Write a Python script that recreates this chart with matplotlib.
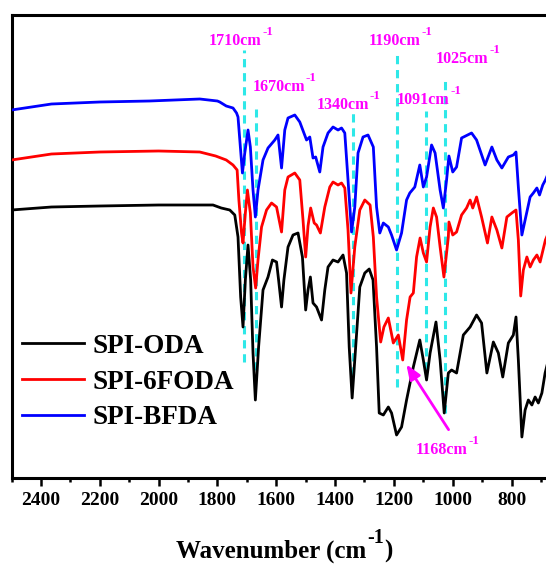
import matplotlib
matplotlib.use("Agg")
import matplotlib.pyplot as plt
from matplotlib.ticker import MultipleLocator

plt.rcParams['font.family'] = ['Liberation Serif', 'DejaVu Serif']
plt.rcParams['font.weight'] = 'bold'

# ---- data (wavenumber cm^-1, transmittance in arbitrary units) ----
wn_bfda = [2500, 2364, 2200, 2031, 1860, 1800, 1792, 1770, 1747, 1735, 1730, 1722, 1715, 1707,
           1696, 1688, 1679, 1671, 1662, 1645, 1628, 1605, 1594, 1582, 1571, 1560, 1537, 1520,
           1497, 1486, 1475, 1466, 1452, 1441, 1424, 1407, 1390, 1378, 1367, 1356, 1344, 1333,
           1322, 1305, 1288, 1270, 1259, 1248, 1236, 1219, 1208, 1191, 1174, 1157, 1146, 1129,
           1112, 1100, 1089, 1072, 1060, 1043, 1032, 1021, 1013, 1000, 987, 970, 936, 919, 890,
           867, 850, 833, 811, 794, 785, 777, 765, 754, 737, 726, 714, 705, 694, 685, 675]
t_bfda = [368, 374, 376, 377, 379, 377, 376, 372, 370, 365, 361, 331, 305, 325,
          348, 331, 288, 261, 288, 318, 330, 338, 343, 310, 348, 360, 363, 356,
          338, 341, 320, 321, 306, 331, 345, 351, 348, 350, 345, 298, 246, 271,
          325, 341, 343, 331, 271, 245, 255, 251, 243, 228, 245, 278, 285, 291,
          313, 291, 301, 333, 325, 288, 270, 298, 322, 306, 311, 340, 345, 338, 313,
          331, 318, 310, 321, 323, 326, 291, 243, 258, 281, 285, 290, 283, 293, 298, 305]

wn_6foda = [2500, 2364, 2200, 2000, 1860, 1806, 1770, 1747, 1733, 1727, 1718, 1713, 1705, 1698,
            1688, 1679, 1670, 1662, 1650, 1633, 1616, 1599, 1582, 1571, 1560, 1537, 1520, 1509,
            1500, 1492, 1483, 1471, 1463, 1450, 1435, 1418, 1407, 1390, 1378, 1367, 1356, 1346,
            1333, 1316, 1299, 1281, 1270, 1259, 1245, 1234, 1219, 1202, 1185, 1170, 1157, 1145,
            1134, 1123, 1111, 1100, 1089, 1077, 1066, 1055, 1043, 1030, 1015, 1013, 1000, 987,
            970, 953, 941, 932, 919, 902, 882, 867, 850, 833, 816, 799, 785, 777, 769, 760, 748,
            737, 726, 714, 703, 685, 675]
t_6foda = [318, 324, 326, 327, 326, 322, 318, 313, 308, 278, 245, 235, 265, 288,
           265, 211, 190, 218, 251, 268, 275, 271, 246, 288, 301, 305, 298, 258,
           221, 252, 270, 255, 253, 245, 271, 291, 296, 293, 295, 290, 248, 185,
           231, 268, 278, 273, 241, 181, 136, 151, 160, 135, 143, 118, 158, 181,
           185, 221, 240, 225, 216, 251, 270, 261, 231, 201, 241, 256, 243, 246,
           263, 270, 278, 270, 281, 261, 235, 261, 248, 230, 261, 265, 268, 238, 182, 208, 221,
           211, 218, 223, 216, 238, 245]

wn_oda = [2500, 2364, 2200, 2000, 1860, 1815, 1787, 1758, 1741, 1730, 1721, 1713, 1705, 1696,
          1687, 1679, 1671, 1660, 1645, 1628, 1613, 1599, 1592, 1582, 1574, 1560, 1543, 1526,
          1511, 1500, 1492, 1484, 1475, 1463, 1446, 1435, 1424, 1407, 1390, 1373, 1361, 1352,
          1342, 1330, 1316, 1299, 1284, 1271, 1259, 1250, 1236, 1219, 1208, 1191, 1174, 1157,
          1134, 1112, 1100, 1089, 1077, 1057, 1043, 1029, 1015, 1004, 987, 964, 941, 919, 902,
          884, 862, 845, 830, 811, 794, 785, 777, 765, 754, 743, 731, 720, 709, 697, 686, 675]
t_oda = [268, 271, 272, 273, 273, 273, 270, 268, 263, 241, 181, 151, 198, 233,
         198, 125, 78, 131, 188, 201, 218, 216, 198, 171, 198, 231, 243, 245,
         221, 168, 188, 201, 175, 171, 158, 188, 211, 218, 216, 223, 205, 131,
         80, 131, 191, 205, 209, 198, 131, 65, 63, 71, 65, 43, 51, 78,
         111, 138, 118, 98, 125, 156, 118, 65, 105, 108, 105, 143, 151, 163, 155,
         105, 136, 125, 101, 135, 143, 161, 118, 41, 68, 78, 73, 81, 75, 85, 105, 118]

series_names = ['SPI-ODA', 'SPI-6FODA', 'SPI-BFDA']

# marked bands: wavenumber, dashed-line bottom/top (a.u.)
band_wn = [1710, 1670, 1340, 1190, 1091, 1025]
band_lo = [116, 108, 103, 91, 108, 65]
band_hi = [428, 369, 365, 424, 367, 398]
band_labels = ['1710cm', '1670cm', '1340cm', '1190cm', '1091cm', '1025cm']
label_x = [1830, 1681, 1464, 1287, 1189, 1057]
label_y = [433, 387, 369, 433, 374, 415]

arrow_label = '1168cm'
arrow_tip = (1163, 116)
arrow_tail = (1009, 46)
arrow_text_pos = (1125, 24)

sup = '-1'
xticks = [2400, 2200, 2000, 1800, 1600, 1400, 1200, 1000, 800]

# ---- figure ----
fig = plt.figure(figsize=(5.46, 5.65), dpi=100)
ax = fig.add_axes([11.5 / 546, 87 / 565, (546 - 11.5) / 546, 463.5 / 565])

cyan = '#2EE8E8'
mag = '#FF00FF'
for w, lo, hi in zip(band_wn, band_lo, band_hi):
    ax.plot([w, w], [lo, hi], color=cyan, lw=2.2, ls=(0, (2.7, 1.9)), zorder=1)

ax.plot(wn_oda, t_oda, color='black', lw=2.0, label=series_names[0], zorder=3)
ax.plot(wn_6foda, t_6foda, color='#FF0000', lw=2.0, label=series_names[1], zorder=3)
ax.plot(wn_bfda, t_bfda, color='#0000FF', lw=2.0, label=series_names[2], zorder=3)


def label_with_sup(x, y, txt, size, color, transform=None, close=None):
    kw = dict(color=color, fontsize=size, fontweight='bold', ha='left', va='baseline',
              zorder=4, clip_on=False)
    if transform is not None:
        kw['transform'] = transform
    t = ax.text(x, y, txt, **kw)
    s = ax.annotate(sup, xy=(1, 1), xycoords=t, xytext=(0.6, -0.13 * size),
                    textcoords='offset points', ha='left', va='baseline',
                    fontsize=size * 0.8, fontweight='bold', color=color)
    if close is not None:
        ax.annotate(close, xy=(1, 0), xycoords=(s, t), xytext=(0.3, 0),
                    textcoords='offset points', ha='left', va='bottom',
                    fontsize=size, fontweight='bold', color=color)
    return t


for lab, x, y in zip(band_labels, label_x, label_y):
    label_with_sup(x, y, lab, 11.5, mag)

ax.annotate('', xy=arrow_tip, xytext=arrow_tail,
            arrowprops=dict(arrowstyle='-|>,head_length=0.9,head_width=0.35', color=mag, lw=2))
label_with_sup(arrow_text_pos[0], arrow_text_pos[1], arrow_label, 11.5, mag)

ax.set_xlim(2500, 683)
ax.set_ylim(0, 463.5)
ax.set_xticks(xticks)
ax.xaxis.set_minor_locator(MultipleLocator(100))
ax.set_yticks([])
ax.tick_params(axis='x', which='major', direction='out', length=6, width=1.8,
               labelsize=14, pad=4, top=False)
ax.tick_params(axis='x', which='minor', direction='out', length=3, width=1.8, top=False)
for lab in ax.get_xticklabels():
    lab.set_fontweight('bold')
for s in ['left', 'top', 'bottom']:
    ax.spines[s].set_linewidth(2.2)
ax.spines['right'].set_visible(False)

# x-axis title built from pieces so the superscript sits like the original
label_with_sup(176 / 546, 1 - 558 / 565, 'Wavenumber (cm', 18, 'black',
               transform=fig.transFigure, close=')')

leg = ax.legend(loc='center left', bbox_to_anchor=(0.0196, 0.207), frameon=False,
                prop={'family': 'Liberation Serif', 'weight': 'bold', 'size': 19.5},
                handlelength=2.3, handletextpad=0.3, labelspacing=0.4,
                borderpad=0, borderaxespad=0)

fig.savefig('out.png', dpi=100)
